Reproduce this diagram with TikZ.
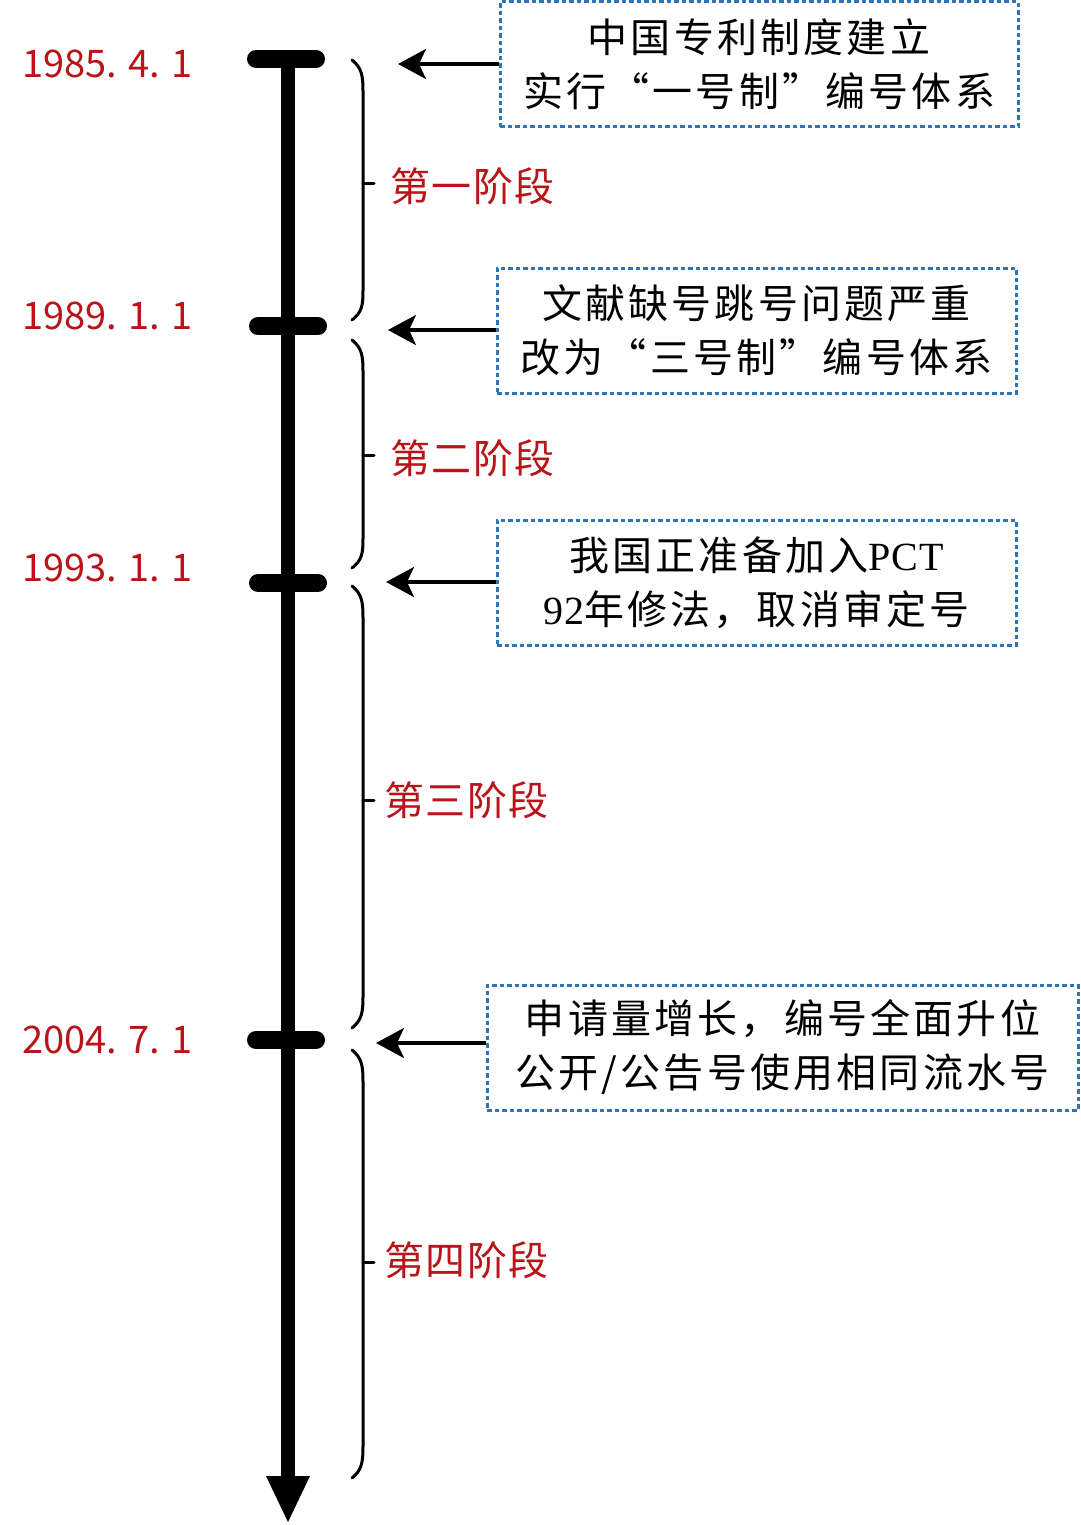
\documentclass[tikz,border=0pt]{standalone}
\usepackage{fontspec}
\usetikzlibrary{arrows.meta}
\newfontfamily\cjkdate{Noto Sans CJK SC}
\newfontfamily\cjkstage[LetterSpace=4]{Noto Sans CJK SC}
\newfontfamily\cjkbox[LetterSpace=8]{Noto Sans CJK SC}
\newfontfamily\latserif[LetterSpace=2]{Liberation Serif}
\definecolor{datered}{RGB}{185,20,25}
\definecolor{boxblue}{RGB}{46,117,182}
\begin{document}
\begin{tikzpicture}[x=1pt,y=-1pt,
  datelabel/.style={anchor=east,text=datered,inner sep=0pt,font=\cjkdate\fontsize{38}{40}\selectfont},
  stagelabel/.style={anchor=west,text=datered,inner sep=0pt,font=\cjkstage\fontsize{40}{42}\selectfont},
  infobox/.style={draw=boxblue,line width=3pt,dash pattern=on 4.5pt off 3pt,align=center,inner sep=0pt,
     minimum height=125pt,font=\cjkbox\fontsize{40}{54}\selectfont},
  tickbar/.style={line width=18pt,line cap=round},
  pointer/.style={line width=3.3pt,-{Stealth[length=28pt,width=30pt,inset=7pt]}},
  bracestroke/.style={line width=3pt,line cap=round}]
\useasboundingbox (0,0) rectangle (1080,1525);
% timeline
\coordinate (top) at (288,59);
\coordinate (bottom) at (288,1482);
\coordinate (tipend) at (288,1522);
\draw[line width=14pt] (top) -- (bottom);
\fill (266,1476) -- (tipend) -- (310,1476) -- cycle;
% ticks
\draw[tickbar] (256,59) -- (316,59);
\draw[tickbar] (258,326) -- (318,326);
\draw[tickbar] (258,583) -- (318,583);
\draw[tickbar] (256,1040) -- (316,1040);
% dates
\node[datelabel] (d1) at (193,64) {1985. 4. 1};
\node[datelabel] (d2) at (193,316) {1989. 1. 1};
\node[datelabel] (d3) at (193,568) {1993. 1. 1};
\node[datelabel] (d4) at (193,1040) {2004. 7. 1};
% braces
\draw[bracestroke] (352,60) .. controls (362,68) and (363,76) .. (363,92) -- (363,290) .. controls (363,306) and (362,312) .. (352,320);
\draw[bracestroke] (363,184) -- (374,184);
\draw[bracestroke] (352,340) .. controls (362,348) and (363,356) .. (363,372) -- (363,538) .. controls (363,554) and (362,560) .. (352,568);
\draw[bracestroke] (363,455) -- (374,455);
\draw[bracestroke] (352,586) .. controls (362,594) and (363,602) .. (363,618) -- (363,996) .. controls (363,1012) and (362,1020) .. (352,1028);
\draw[bracestroke] (363,800) -- (374,800);
\draw[bracestroke] (352,1050) .. controls (362,1058) and (363,1066) .. (363,1082) -- (363,1446) .. controls (363,1462) and (362,1470) .. (352,1478);
\draw[bracestroke] (363,1262) -- (374,1262);
% stage labels
\node[stagelabel] (s1) at (390,186) {第一阶段};
\node[stagelabel] (s2) at (390,458) {第二阶段};
\node[stagelabel] (s3) at (384,800) {第三阶段};
\node[stagelabel] (s4) at (384,1260) {第四阶段};
% boxes
\node[infobox,minimum width=518pt] (b1) at (759,64.5) {中国专利制度建立\\实行“一号制”编号体系};
\node[infobox,minimum width=519pt] (b2) at (756.5,330.5) {文献缺号跳号问题严重\\改为“三号制”编号体系};
\node[infobox,minimum width=519pt] (b3) at (756.5,582.5) {我国正准备加入{\latserif PCT}\\{\latserif 92}年修法，取消审定号};
\node[infobox,minimum width=591pt] (b4) at (782.5,1047.5) {申请量增长，编号全面升位\\公开/公告号使用相同流水号};
% pointers
\coordinate (p1) at (398,64);
\coordinate (p2) at (388,330);
\coordinate (p3) at (386,582);
\coordinate (p4) at (376,1043);
\draw[pointer] (b1.west |- p1) -- (p1);
\draw[pointer] (b2.west |- p2) -- (p2);
\draw[pointer] (b3.west |- p3) -- (p3);
\draw[pointer] (b4.west |- p4) -- (p4);
\end{tikzpicture}
\end{document}
